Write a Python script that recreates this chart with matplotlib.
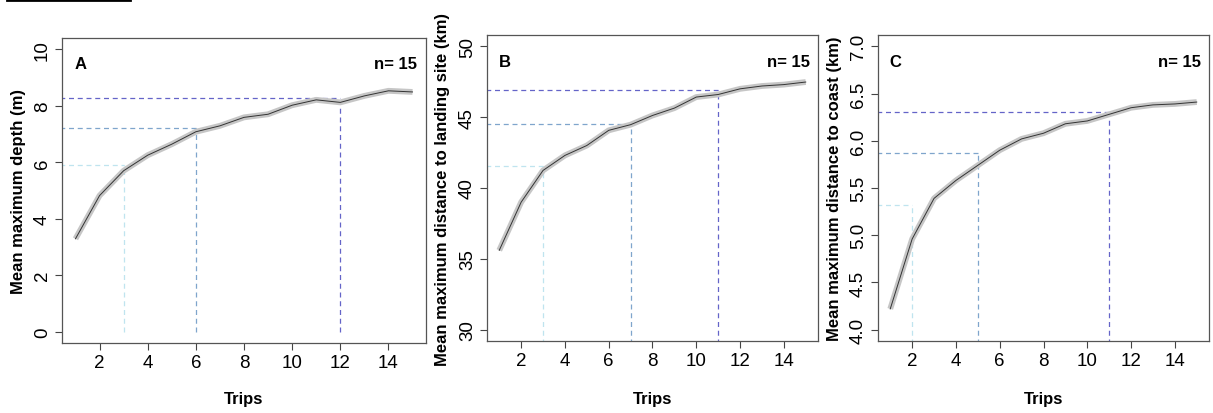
import matplotlib
matplotlib.use("Agg")
from matplotlib import pyplot as plt
import numpy as np

plt.rcParams['font.family'] = ['Liberation Sans', 'DejaVu Sans']

# nombre de sorties
trips = list(range(1, 16))

# A : profondeur max moyenne (m)
depth = [3.29, 4.82, 5.70, 6.25, 6.64, 7.08, 7.29, 7.59, 7.70, 8.02, 8.21, 8.12, 8.35, 8.53, 8.49]
# B : distance max au site de debarquement (km)
landing = [35.6, 39.0, 41.24, 42.3, 43.0, 44.07, 44.47, 45.12, 45.64, 46.42, 46.6, 47.0, 47.2, 47.3, 47.48]
# C : distance max a la cote (km)
coast = [4.22, 4.96, 5.39, 5.58, 5.74, 5.90, 6.02, 6.08, 6.18, 6.21, 6.28, 6.35, 6.38, 6.39, 6.41]

# seuils (x de la sortie, y de la valeur) : clair, moyen, fonce
seuils_A = [(3, 5.9), (6, 7.2), (12, 8.26)]
seuils_B = [(3, 41.55), (7, 44.49), (11, 46.94)]
seuils_C = [(2, 5.32), (5, 5.87), (11, 6.30)]

ylims = [(0, 10), (30, 50), (4.0, 7.0)]
yticks = [[0, 2, 4, 6, 8, 10], [30, 35, 40, 45, 50], [4.0, 4.5, 5.0, 5.5, 6.0, 6.5, 7.0]]
ylabels = ["Mean maximum depth (m)",
           "Mean maximum distance to landing site (km)",
           "Mean maximum distance to coast (km)"]
lettres = ["A", "B", "C"]
couleurs = ['#bfe4ef', '#7fa5cc', '#6464c8']

W, H = 1213, 414
fig = plt.figure(figsize=(W/100, H/100), dpi=100)

# positions des axes en pixels (gauche, haut, droite, bas)
boites = [(62, 39, 426, 344), (487, 36, 818, 342), (878, 36, 1209, 342)]
ylab_x = [18, 442, 835]

series = [depth, landing, coast]
seuils = [seuils_A, seuils_B, seuils_C]

for i in range(3):
    l, t, r, b = boites[i]
    ax = fig.add_axes([l/W, 1-b/H, (r-l)/W, (b-t)/H])
    y = series[i]
    ax.plot(trips, y, color='#c6c6c6', lw=4.2, solid_capstyle='butt', zorder=2)
    ax.plot(trips, y, color='#333333', lw=0.7, zorder=3)
    lo, hi = ylims[i]
    for (xs, ys), c in zip(seuils[i], couleurs):
        ax.plot([0, xs], [ys, ys], color=c, lw=0.9, ls=(0, (4, 3)), zorder=1)
        ax.plot([xs, xs], [0, ys], color=c, lw=0.9, ls=(0, (4, 3)), zorder=1)
    ext = (hi - lo) * 0.04
    ax.set_ylim(lo - ext, hi + ext)
    ax.set_xlim(1 - 0.56, 15 + 0.56)
    ax.set_xticks([2, 4, 6, 8, 10, 12, 14])
    ax.set_yticks(yticks[i])
    if i == 2:
        ax.set_yticklabels(["%.1f" % v for v in yticks[i]])
    for lab in ax.get_yticklabels():
        lab.set_rotation(90)
        lab.set_va('center')
    ax.tick_params(labelsize=13.5, length=5, width=0.8, color='#444444', pad=3)
    for s in ax.spines.values():
        s.set_color('#555555')
        s.set_linewidth(0.9)
    ax.set_xlabel("Trips", fontsize=12, fontweight='bold')
    ax.xaxis.set_label_coords(0.5, -(400 - b) / (b - t))
    ax.xaxis.label.set_va('center')
    ax.set_ylabel(ylabels[i], fontsize=12, fontweight='bold')
    ax.yaxis.set_label_coords(-(l - ylab_x[i]) / (r - l), 0.5)
    ax.yaxis.label.set_va('center')
    ax.text(0.035, 0.915, lettres[i], transform=ax.transAxes, fontsize=12,
            fontweight='bold', va='center', ha='left')
    ax.text(0.975, 0.915, "n= 15", transform=ax.transAxes, fontsize=12,
            fontweight='bold', va='center', ha='right')

# trait noir en haut a gauche
fig.add_artist(plt.Line2D([7/W, 130/W], [1 - 1/H, 1 - 1/H], color='black', lw=2))

fig.savefig("out.png", dpi=100)
